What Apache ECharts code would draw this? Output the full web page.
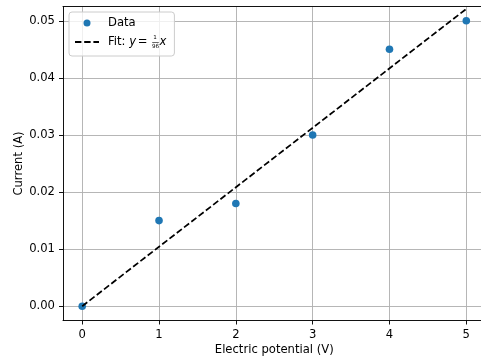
<!DOCTYPE html>
<html>
<head>
<meta charset="utf-8">
<script src="https://cdn.jsdelivr.net/npm/echarts@6/dist/echarts.min.js"></script>
<style>
  html, body { margin: 0; padding: 0; background: #fff; width: 481px; height: 360px; overflow: hidden; }
  #chart { width: 500px; height: 360px; }
</style>
</head>
<body>
<div id="chart"></div>
<script>
// ---- data ----
const potentialV = [0, 1, 2, 3, 4, 5];
const currentA = [0, 0.015, 0.018, 0.03, 0.045, 0.05];
const fitX = [0, 5];
const fitSlope = 1 / 96;           // Fit: y = x / 96
const xTicks = [0, 1, 2, 3, 4, 5];
const yTicks = [0, 0.01, 0.02, 0.03, 0.04, 0.05];
const xTitle = 'Electric potential (V)';
const yTitle = 'Current (A)';
const seriesNames = ['Data', 'Fit'];

const FONT = 'DejaVu Sans';
const FS = 11.6;

const scatterData = potentialV.map((x, i) => [x, currentA[i]]);
const fitData = fitX.map(x => [x, x * fitSlope]);

const chart = echarts.init(document.getElementById('chart'), null, { renderer: 'canvas' });

const axisLine = { show: true, onZero: false, lineStyle: { color: '#000', width: 0.93 } };
const tickStyle = { color: '#000', width: 0.93 };
const labelBase = { margin: 8, fontFamily: FONT, fontSize: FS, color: '#000' };
const gridLine = { show: true, showMinLine: true, showMaxLine: true, lineStyle: { color: '#b0b0b0', width: 0.93 } };

chart.setOption({
  animation: false,
  backgroundColor: '#fff',
  grid: {
    left: 63, top: 6.5, width: 422.5, height: 314,
    show: false, containLabel: false, outerBoundsMode: 'none'
  },
  xAxis: [
    {
      type: 'value', min: -0.25, max: 5.25, position: 'bottom',
      name: xTitle, nameLocation: 'middle', nameGap: 23, nameMoveOverlap: false,
      nameTextStyle: { fontFamily: FONT, fontSize: FS, color: '#000' },
      axisLine: axisLine,
      axisTick: { show: true, length: 4, lineStyle: tickStyle, customValues: xTicks },
      splitLine: gridLine,
      axisLabel: Object.assign({ customValues: xTicks, formatter: v => String(Math.round(v)) }, labelBase)
    },
    {
      type: 'value', min: -0.25, max: 5.25, position: 'top',
      axisLine: axisLine,
      axisTick: { show: false }, axisLabel: { show: false }, splitLine: { show: false }
    }
  ],
  yAxis: {
    type: 'value', min: -0.0025, max: 0.0525,
    name: yTitle, nameLocation: 'middle', nameGap: 38, nameMoveOverlap: false,
    nameTextStyle: { fontFamily: FONT, fontSize: FS, color: '#000' },
    axisLine: axisLine,
    axisTick: { show: true, length: 4, lineStyle: tickStyle, customValues: yTicks },
    splitLine: gridLine,
    axisLabel: Object.assign({ customValues: yTicks, formatter: v => v.toFixed(2) }, labelBase)
  },
  legend: {
    orient: 'vertical', left: 69, top: 12,
    padding: [4, 8, 7, 5],
    itemGap: 5, itemWidth: 24, itemHeight: 7,
    selectedMode: false,
    backgroundColor: 'rgba(255,255,255,0.8)',
    borderColor: '#cccccc', borderWidth: 1, borderRadius: 3,
    data: [
      { name: seriesNames[0], icon: 'circle' },
      { name: seriesNames[1], itemStyle: { color: 'rgba(0,0,0,0)', borderWidth: 0, opacity: 0 } }
    ],
    textStyle: {
      fontFamily: FONT, fontSize: FS, color: '#000', lineHeight: 14,
      padding: [0, 0, 0, 4],
      rich: {
        t: { fontFamily: FONT, fontSize: FS, color: '#000', lineHeight: 14 },
        i: { fontFamily: FONT, fontSize: FS, fontStyle: 'italic', color: '#000', lineHeight: 14 },
        e: { fontFamily: FONT, fontSize: FS, color: '#000', lineHeight: 14, width: 13, align: 'center' },
        f: { fontFamily: FONT, fontSize: FS, color: '#000', lineHeight: 14, width: 10.5 }
      }
    },
    formatter: function (name) {
      if (name === 'Fit') return '{t|Fit: }{i|y}{e|=}{f| }{i|x}';
      return name;
    }
  },
  graphic: [
    { type: 'text', left: 153.2, top: 34.6, z: 100,
      style: { text: '1', fontFamily: FONT, fontSize: 5.6, fill: '#000' } },
    { type: 'line', z: 100, shape: { x1: 152.2, y1: 42.5, x2: 158.8, y2: 42.5 },
      style: { stroke: '#000', lineWidth: 0.6 } },
    { type: 'text', left: 152.0, top: 43.6, z: 100,
      style: { text: '96', fontFamily: FONT, fontSize: 5.6, fill: '#000' } }
  ],
  series: [
    {
      name: seriesNames[0], type: 'scatter', data: scatterData,
      symbol: 'circle', symbolSize: 7.6,
      itemStyle: { color: '#1f77b4', opacity: 1 }, z: 2
    },
    {
      name: seriesNames[1], type: 'line', data: fitData,
      showSymbol: false, symbol: 'none',
      lineStyle: { color: '#000', width: 1.74, type: [6.4, 2.8] },
      itemStyle: { color: '#000' }, z: 3
    }
  ]
});
</script>
</body>
</html>
